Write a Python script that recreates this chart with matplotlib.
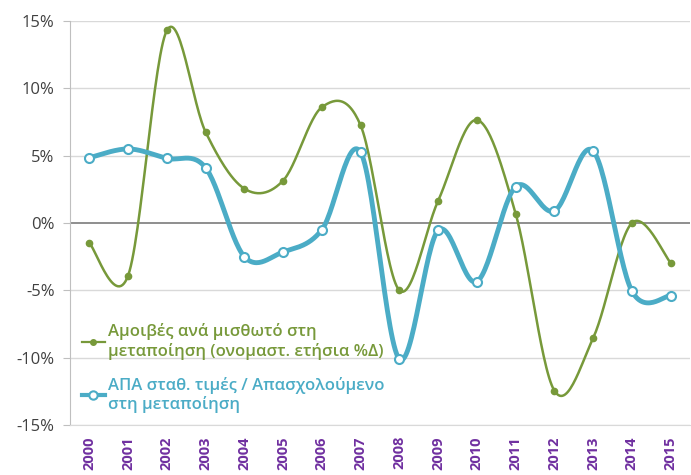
import numpy as np
import matplotlib
matplotlib.use("Agg")
import matplotlib.pyplot as plt
from matplotlib.lines import Line2D

plt.rcParams['font.family'] = ['Open Sans', 'DejaVu Sans']

years = [str(y) for y in range(2000, 2016)]
wages = [-1.5, -3.9, 14.3, 6.75, 2.55, 3.15, 8.6, 7.25, -5.0, 1.65, 7.65, 0.7, -12.45, -8.55, 0.0, -2.95]
productivity = [4.85, 5.5, 4.8, 4.1, -2.5, -2.15, -0.5, 5.25, -10.1, -0.55, -4.35, 2.7, 0.9, 5.35, -5.05, -5.4]
label_wages = "Αμοιβές ανά μισθωτό στη\nμεταποίηση (ονομαστ. ετήσια %Δ)"
label_prod = "ΑΠΑ σταθ. τιμές / Απασχολούμενο\nστη μεταποίηση"

GREEN = '#77993A'
BLUE = '#4BACC6'
PURPLE = '#7030A0'


def smooth(x, y, n=30):
    x = np.asarray(x, float)
    y = np.asarray(y, float)
    px = np.concatenate([[x[0]], x, [x[-1]]])
    py = np.concatenate([[y[0]], y, [y[-1]]])
    xs, ys = [], []
    t = np.linspace(0, 1, n)
    for i in range(1, len(px) - 2):
        p0 = np.array([px[i], py[i]])
        p3 = np.array([px[i + 1], py[i + 1]])
        p1 = p0 + (np.array([px[i + 1], py[i + 1]]) - np.array([px[i - 1], py[i - 1]])) / 6
        p2 = p3 - (np.array([px[i + 2], py[i + 2]]) - np.array([px[i], py[i]])) / 6
        b = ((1 - t) ** 3)[:, None] * p0 + (3 * (1 - t) ** 2 * t)[:, None] * p1 + \
            (3 * (1 - t) * t ** 2)[:, None] * p2 + (t ** 3)[:, None] * p3
        xs.extend(b[:, 0]); ys.extend(b[:, 1])
    return np.array(xs), np.array(ys)


fig = plt.figure(figsize=(6.91, 4.75), dpi=100)
ax = fig.add_axes([70 / 691, 1 - 425 / 475, 620 / 691, 404 / 475])

x = np.arange(len(years))
ax.set_xlim(-0.5, len(years) - 0.5)
ax.set_ylim(-15, 15)
ax.set_yticks(np.arange(-15, 16, 5))
ax.set_yticklabels([f"{v}%" for v in range(-15, 16, 5)])
for v in range(-15, 16, 5):
    if v != 0:
        ax.axhline(v, color='#D9D9D9', lw=1, zorder=0)
ax.axhline(0, color='#868686', lw=1.3, zorder=1)

sx, sy = smooth(x, wages)
ax.plot(sx, sy, color=GREEN, lw=1.8, zorder=3)
ax.plot(x, wages, 'o', color=GREEN, ms=4.5, zorder=4)

bx, by = smooth(x, productivity)
ax.plot(bx, by, color=BLUE, lw=3.5, zorder=5)
ax.plot(x, productivity, 'o', mfc='white', mec=BLUE, mew=1.5, ms=6.5, zorder=6)

ax.set_xticks(x)
ax.set_xticklabels(years, rotation=90, color=PURPLE, fontweight='bold', fontsize=10.5)
ax.tick_params(axis='x', length=0, pad=8)
ax.tick_params(axis='y', labelsize=12, labelcolor='#404040', color='#BFBFBF', length=5, pad=6)

for s in ['top', 'right']:
    ax.spines[s].set_visible(False)
ax.spines['bottom'].set_color('#D9D9D9')
ax.spines['left'].set_color('#BFBFBF')

h1 = Line2D([], [], color=GREEN, lw=1.6, marker='o', ms=4)
h2 = Line2D([], [], color=BLUE, lw=3, marker='o', mfc='white', mec=BLUE, mew=1.5, ms=6)
leg = ax.legend([h1, h2], [label_wages, label_prod], loc='lower left',
                bbox_to_anchor=(0.0, 0.0), frameon=False, fontsize=12,
                handlelength=1.4, handletextpad=0.15, labelspacing=1.0,
                borderaxespad=0.4, borderpad=0.3)
for t, c in zip(leg.get_texts(), [GREEN, BLUE]):
    t.set_color(c)
    t.set_fontweight('semibold')

fig.savefig('out.png', dpi=100)
